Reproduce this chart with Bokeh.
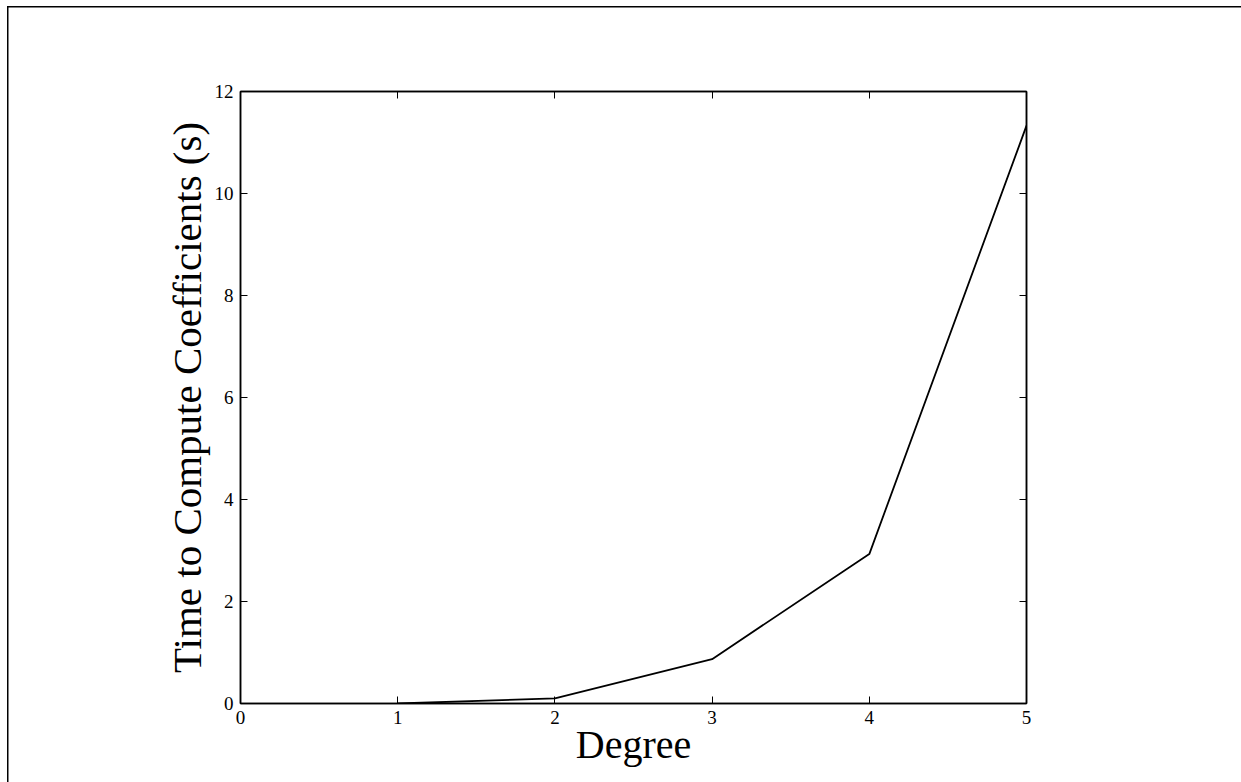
from bokeh.plotting import figure
from bokeh.models import FixedTicker, LinearAxis, Range1d, InlineStyleSheet
from bokeh.embed import file_html
from bokeh.resources import INLINE

degree = [1, 2, 3, 4, 5]
time_s = [0.0, 0.1, 0.87, 2.93, 11.33]
x_ticks = [0, 1, 2, 3, 4, 5]
y_ticks = [0, 2, 4, 6, 8, 10, 12]

FONT = "Liberation Serif"

p = figure(width=1241, height=782, output_backend="svg", toolbar_location=None,
           x_range=Range1d(0, 5), y_range=Range1d(0, 12),
           min_border_left=240, min_border_right=215, min_border_top=91, min_border_bottom=79)
p.background_fill_color = "white"
p.border_fill_color = "white"
p.border_fill_alpha = 0
p.stylesheets = [InlineStyleSheet(css=(
    ":host { background: "
    "linear-gradient(black, black) 6.5px 5.5px / 1.5px 100% no-repeat, "
    "linear-gradient(black, black) 6.5px 5.5px / 100% 1.5px no-repeat, white; }"
))]
p.grid.visible = False
p.outline_line_color = "black"
p.outline_line_width = 1.5

p.line(degree, time_s, line_color="black", line_width=1.8)

xa = p.xaxis[0]
ya = p.yaxis[0]
xa.ticker = FixedTicker(ticks=x_ticks)
ya.ticker = FixedTicker(ticks=y_ticks)

top = LinearAxis(ticker=FixedTicker(ticks=x_ticks))
right = LinearAxis(ticker=FixedTicker(ticks=y_ticks))
p.add_layout(top, "above")
p.add_layout(right, "right")

for ax in [xa, ya, top, right]:
    ax.axis_line_color = "black"
    ax.axis_line_width = 1.5
    ax.major_tick_in = 7
    ax.major_tick_out = 0
    ax.major_tick_line_color = "black"
    ax.major_tick_line_width = 1
    ax.minor_tick_line_color = None
    ax.major_label_text_font = FONT
    ax.major_label_text_font_size = "19px"
    ax.major_label_text_color = "black"
    ax.major_label_standoff = 7
for ax in [top, right]:
    ax.major_label_text_color = None
    ax.major_label_text_font_size = "1px"

xa.axis_label = "Degree"
ya.axis_label = "Time to Compute Coefficients (s)"
for ax in [xa, ya]:
    ax.axis_label_text_font = FONT
    ax.axis_label_text_font_style = "normal"
    ax.axis_label_text_color = "black"
xa.axis_label_text_font_size = "40px"
ya.axis_label_text_font_size = "41px"
xa.axis_label_standoff = -5
ya.axis_label_standoff = 2

open("out.html", "w").write(file_html(p, INLINE))
